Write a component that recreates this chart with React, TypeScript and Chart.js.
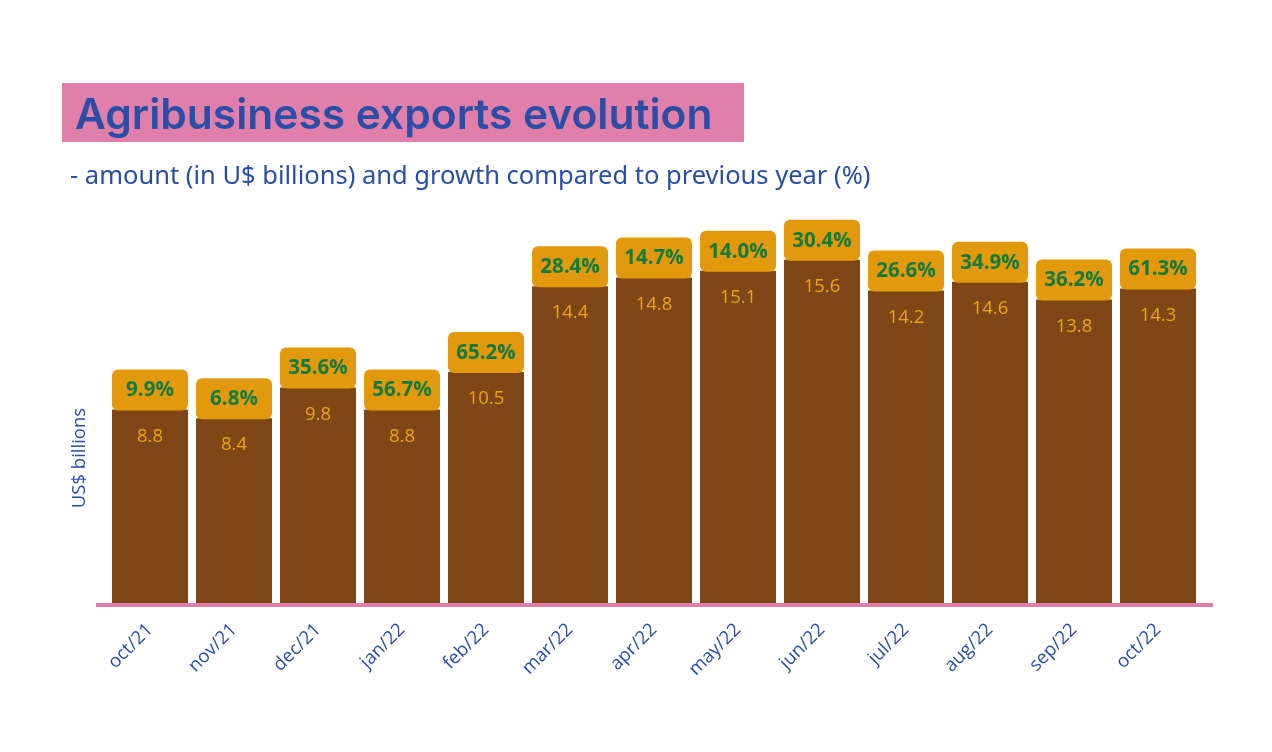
import { useEffect, useRef } from "react";
import { Chart, registerables } from "chart.js";

Chart.register(...registerables);

const categories = ["oct/21", "nov/21", "dec/21", "jan/22", "feb/22", "mar/22", "apr/22", "may/22", "jun/22", "jul/22", "aug/22", "sep/22", "oct/22"];
const amounts = [8.8, 8.4, 9.8, 8.8, 10.5, 14.4, 14.8, 15.1, 15.6, 14.2, 14.6, 13.8, 14.3];
const growth = [9.9, 6.8, 35.6, 56.7, 65.2, 28.4, 14.7, 14.0, 30.4, 26.6, 34.9, 36.2, 61.3];

const titleText = "Agribusiness exports evolution";
const subtitleText = "- amount (in U$ billions) and growth compared to previous year (%)";
const yTitle = "US$ billions";

const BROWN = "#7e4715";
const ORANGE = "#e3990c";
const GREEN = "#137a3d";
const BLUE = "#2a4ea6";
const PINK = "#e07fa9";
const VALUE_COLOR = "#eba516";

export default function App() {
  const ref = useRef<HTMLCanvasElement>(null);

  useEffect(() => {
    const overlay = {
      id: "overlay",
      afterDatasetsDraw(chart: any) {
        const ctx = chart.ctx as CanvasRenderingContext2D;
        const meta = chart.getDatasetMeta(0);
        const area = chart.chartArea;
        ctx.save();
        // axis line
        ctx.fillStyle = PINK;
        ctx.fillRect(area.left - 12, area.bottom, area.right - area.left + 25, 4);

        meta.data.forEach((bar: any, i: number) => {
          const props = bar.getProps(["x", "y", "width", "base"], true);
          const left = props.x - props.width / 2;
          const top = props.y;
          // growth box
          ctx.fillStyle = ORANGE;
          ctx.beginPath();
          (ctx as any).roundRect(left, top - 40, props.width, 41, 6);
          ctx.fill();
          ctx.fillStyle = GREEN;
          ctx.font = "700 20.5px 'Open Sans'";
          ctx.textAlign = "center";
          ctx.textBaseline = "middle";
          ctx.fillText(growth[i].toFixed(1) + "%", props.x, top - 19);
          // value
          ctx.fillStyle = VALUE_COLOR;
          ctx.font = "400 18.5px 'Open Sans'";
          ctx.fillText(amounts[i].toFixed(1), props.x, top + 27);
        });

        // titles
        ctx.fillStyle = PINK;
        ctx.fillRect(62, 83, 682, 59);
        ctx.fillStyle = BLUE;
        ctx.textAlign = "left";
        ctx.textBaseline = "alphabetic";
        ctx.font = "600 42.5px Inter";
        ctx.fillText(titleText, 75, 129);
        ctx.font = "400 25.5px 'Noto Sans'";
        ctx.fillText(subtitleText, 70, 184);

        // y title
        ctx.save();
        ctx.translate(80, 458);
        ctx.rotate(-Math.PI / 2);
        ctx.textAlign = "center";
        ctx.textBaseline = "middle";
        ctx.font = "400 18.5px 'Open Sans'";
        ctx.fillText(yTitle, 0, 0);
        ctx.restore();
        ctx.restore();
      },
    };

    const chart = new Chart(ref.current!, {
      type: "bar",
      data: {
        labels: categories,
        datasets: [
          {
            data: amounts,
            backgroundColor: BROWN,
            borderWidth: 0,
            barPercentage: 76 / 84,
            categoryPercentage: 1,
          },
        ],
      },
      options: {
        animation: false,
        responsive: false,
        maintainAspectRatio: false,
        layout: { padding: { left: 108, right: 72, top: 163, bottom: 0 } },
        plugins: { legend: { display: false }, tooltip: { enabled: false } },
        scales: {
          x: {
            grid: { display: false, drawTicks: false },
            border: { display: false },
            ticks: {
              color: BLUE,
              font: { family: "'Open Sans'", size: 18.5 },
              minRotation: 45,
              maxRotation: 45,
              padding: 16,
            },
            afterFit: (s: any) => {
              s.height = 149;
            },
          },
          y: { display: false, min: 0, max: 20 },
        },
      },
      plugins: [overlay],
    } as any);
    return () => chart.destroy();
  }, []);

  return (
    <div style={{ position: "fixed", left: 0, top: 0, width: 1272, height: 752, background: "#fff" }}>
      <canvas ref={ref} width={1272} height={752} style={{ display: "block" }} />
    </div>
  );
}
